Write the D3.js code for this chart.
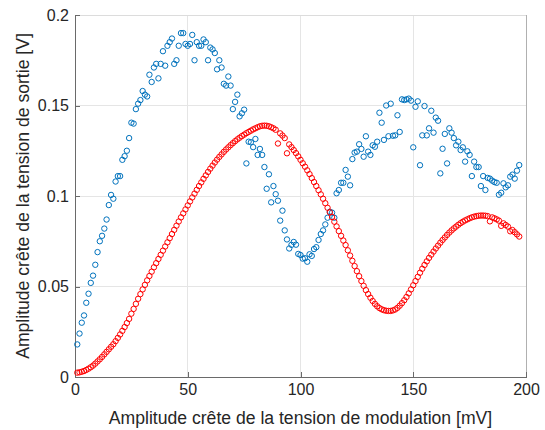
<!DOCTYPE html>
<html><head><meta charset="utf-8">
<script src="https://cdn.jsdelivr.net/npm/d3@7"></script>
<style>body{margin:0;background:#fff}svg{display:block}text{font-family:"Liberation Sans",Arial,sans-serif;fill:#262626}</style>
</head><body><svg id="c" width="545" height="430"></svg>
<script>
const xStart = 1;
const blueValues = [0.018,0.024,0.030,0.034,0.041,0.046,0.052,0.056,0.062,0.069,
0.075,0.078,0.082,0.087,0.095,0.1006,0.0985,0.108,0.111,0.111,
0.120,0.122,0.125,0.132,0.1405,0.140,0.148,0.151,0.153,0.158,
0.156,0.155,0.167,0.163,0.171,0.173,0.165,0.173,0.180,0.172,
0.183,0.185,0.187,0.173,0.175,0.183,0.190,0.190,0.184,0.183,
0.184,0.189,0.175,0.185,0.183,0.183,0.1865,0.185,0.175,0.182,
0.181,0.179,0.170,0.175,0.171,0.162,0.161,0.166,0.161,0.148,
0.152,0.156,0.144,0.1457,0.1477,0.118,0.130,0.1297,0.127,0.1315,
0.1227,0.126,0.1227,0.116,0.104,0.112,0.0965,0.1055,0.101,0.0974,
0.0864,0.0919,0.081,0.076,0.071,0.073,0.0746,0.0731,0.068,0.0674,
0.0654,0.0656,0.0637,0.0678,0.0669,0.0707,0.0717,0.0757,0.079,0.081,
0.0843,0.088,0.0913,0.0908,0.088,0.1015,0.1033,0.1073,0.1073,0.1144,
0.1107,0.1059,0.1204,0.124,0.1245,0.1286,0.126,0.1217,0.133,0.1245,
0.1227,0.128,0.1272,0.130,0.146,0.1405,0.131,0.150,0.133,0.151,
0.1333,0.1335,0.1446,0.1354,0.1534,0.153,0.1534,0.1538,0.1527,0.1269,
0.1493,0.1523,0.117,0.1335,0.1497,0.1335,0.1374,0.1471,0.135,0.1433,
0.1416,0.1125,0.1261,0.1343,0.118,0.1374,0.135,0.132,0.128,0.130,
0.1254,0.1269,0.119,0.1247,0.1227,0.111,0.119,0.116,0.116,0.1055,
0.111,0.1033,0.110,0.1096,0.1085,0.1077,0.1073,0.1007,0.1018,0.107,
0.1048,0.1059,0.1107,0.1118,0.1096,0.114,0.1171];
const redValues = [0.0024,0.0026,0.0029,0.0033,0.0039,0.0046,0.0054,0.0063,0.0074,0.0086,
0.0098,0.0111,0.0125,0.0139,0.0153,0.0167,0.0181,0.0198,0.0216,0.0235,
0.0255,0.0276,0.0298,0.0321,0.0350,0.0376,0.0404,0.0432,0.0458,0.0484,
0.0509,0.0534,0.0558,0.0582,0.0606,0.0629,0.0652,0.0675,0.0698,0.0721,
0.0744,0.0767,0.0790,0.0813,0.0836,0.0859,0.0882,0.0904,0.0926,0.0948,
0.0970,0.0992,0.1013,0.1034,0.1055,0.1075,0.1095,0.1114,0.1133,0.1151,
0.1168,0.1185,0.1201,0.1216,0.1230,0.1244,0.1257,0.1269,0.1281,0.1292,
0.1303,0.1313,0.1322,0.1331,0.1339,0.1347,0.1354,0.1361,0.1368,0.1374,
0.1380,0.1385,0.1388,0.1389,0.1388,0.1385,0.1380,0.1374,0.1366,0.1290,
0.1346,0.1334,0.1320,0.1236,0.1285,0.1270,0.1254,0.1237,0.1219,0.1200,
0.1181,0.1162,0.1142,0.1121,0.1099,0.1077,0.1055,0.1032,0.1009,0.0985,
0.0960,0.0935,0.0910,0.0884,0.0858,0.0832,0.0806,0.0780,0.0754,0.0729,
0.0700,0.0671,0.0642,0.0613,0.0585,0.0557,0.0530,0.0504,0.0480,0.0458,
0.0438,0.0420,0.0404,0.0391,0.0381,0.0374,0.0369,0.0366,0.0365,0.0365,
0.0368,0.0373,0.0382,0.0394,0.0408,0.0424,0.0442,0.0462,0.0484,0.0507,
0.0530,0.0553,0.0576,0.0598,0.0619,0.0639,0.0658,0.0676,0.0693,0.0710,
0.0726,0.0742,0.0757,0.0771,0.0785,0.0798,0.0810,0.0821,0.0831,0.0841,
0.0850,0.0858,0.0865,0.0871,0.0877,0.0882,0.0886,0.0889,0.0891,0.0892,
0.0892,0.0891,0.0889,0.0860,0.0882,0.0877,0.0871,0.0864,0.0835,0.0849,
0.0840,0.0831,0.0805,0.0812,0.0800,0.0788,0.0776];
const xTicks = [0,50,100,150,200];
const yTicks = [0,0.05,0.1,0.15,0.2];
const yTickLabels = ["0","0.05","0.1","0.15","0.2"];
const xLabel = "Amplitude crête de la tension de modulation [mV]";
const yLabel = "Amplitude crête de la tension de sortie [V]";

const L=75,R=526,T=15,B=377;
const svg=d3.select("#c");
const x=d3.scaleLinear().domain([0,200]).range([L,R]);
const y=d3.scaleLinear().domain([0,0.2]).range([B,T]);

// grid
svg.append("g").selectAll("line").data(xTicks.slice(1,-1)).join("line")
 .attr("x1",d=>x(d)).attr("x2",d=>x(d)).attr("y1",T).attr("y2",B)
 .attr("stroke","#e5e5e5").attr("shape-rendering","crispEdges");
svg.append("g").selectAll("line").data(yTicks.slice(1,-1)).join("line")
 .attr("y1",d=>y(d)).attr("y2",d=>y(d)).attr("x1",L).attr("x2",R)
 .attr("stroke","#e5e5e5").attr("shape-rendering","crispEdges");
// top/right box
svg.append("line").attr("x1",L).attr("x2",R).attr("y1",T).attr("y2",T).attr("stroke","#dcdcdc").attr("shape-rendering","crispEdges");
svg.append("line").attr("x1",R).attr("x2",R).attr("y1",T).attr("y2",B).attr("stroke","#b0b0b0").attr("shape-rendering","crispEdges");

// axes
const xAxis=d3.axisBottom(x).tickValues(xTicks).tickSize(-5).tickPadding(10).tickFormat(d3.format("d"));
const gx=svg.append("g").attr("transform",`translate(0,${B})`).call(xAxis);
const yAxis=d3.axisLeft(y).tickValues(yTicks).tickSize(-5).tickPadding(10).tickFormat((d,i)=>yTickLabels[i]);
const gy=svg.append("g").attr("transform",`translate(${L},0)`).call(yAxis);
[gx,gy].forEach(g=>{
 g.select(".domain").attr("stroke","#6a6a6a").attr("shape-rendering","crispEdges");
 g.selectAll(".tick line").attr("stroke","#6a6a6a").attr("shape-rendering","crispEdges");
 g.selectAll(".tick text").attr("font-size",16).attr("fill","#262626").style("font-family","'Liberation Sans',Arial,sans-serif");
});
gx.selectAll(".tick text").attr("dy","0.71em").attr("y",7);
gy.selectAll(".tick text").attr("x",-6);

// series
function draw(vals,color){
 svg.append("g").selectAll("circle").data(vals).join("circle")
  .attr("cx",(d,i)=>x(xStart+i)).attr("cy",d=>y(d)).attr("r",2.7)
  .attr("fill","none").attr("stroke",color).attr("stroke-width",1);
}
draw(blueValues,"#0072BD");
draw(redValues,"#FF0000");

svg.append("text").attr("x",(L+R)/2).attr("y",424).attr("text-anchor","middle").attr("font-size",17.6).text(xLabel);
svg.append("text").attr("transform",`translate(29,${(T+B)/2}) rotate(-90)`).attr("text-anchor","middle").attr("font-size",17.6).text(yLabel);
</script></body></html>
